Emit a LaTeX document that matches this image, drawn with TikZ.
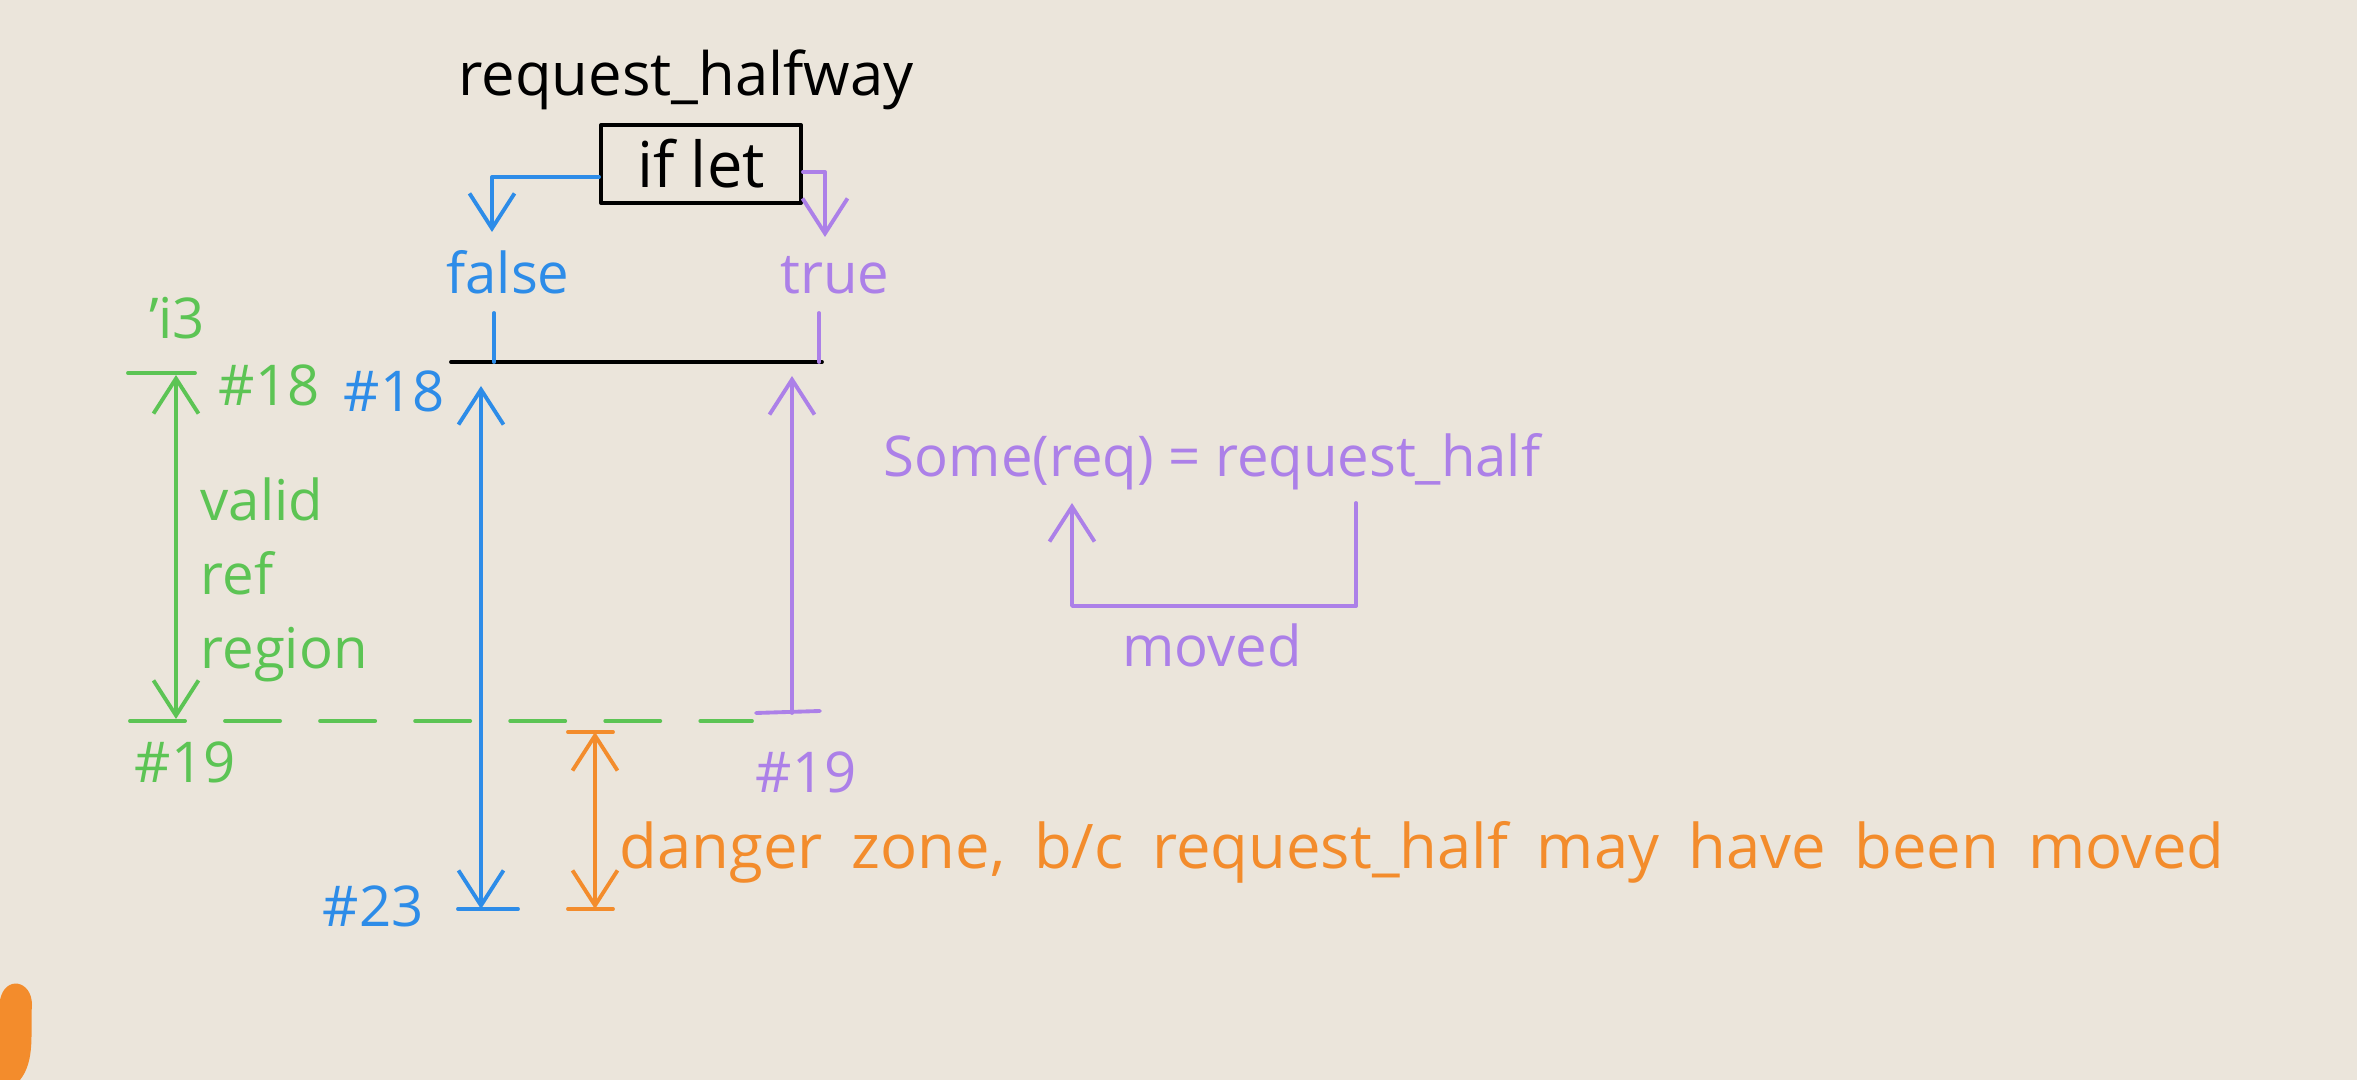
\documentclass[tikz,border=0pt]{standalone}
\usepackage{fontspec}
\setmainfont{Open Sans}
\usetikzlibrary{positioning,arrows.meta,calc}

\definecolor{paper}{RGB}{235,229,219}
\definecolor{penblue}{RGB}{45,140,232}
\definecolor{penpurple}{RGB}{172,128,232}
\definecolor{pengreen}{RGB}{92,196,84}
\definecolor{penorange}{RGB}{243,140,44}

\tikzset{
    hand/.style={font=\fontsize{16}{21}\selectfont, inner sep=0pt},
    pen/.style={line width=1.1pt, line cap=round, line join=round},
    barb/.style={-{Straight Barb[length=3.5mm,width=4.5mm]}},
    twobarb/.style={{Straight Barb[length=3.5mm,width=4.5mm]}-{Straight Barb[length=3.5mm,width=4.5mm]}}
}

\begin{document}
\begin{tikzpicture}[x=0.01cm, y=-0.01cm]
        % paper
        \fill[paper] (0,0) rectangle (2357,1080);
        \useasboundingbox (0,0) rectangle (2357,1080);

        %-----Branch-----

        % if let box
        \node [hand, draw, pen, minimum width=2cm, minimum height=0.78cm, font=\fontsize{18}{21}\selectfont] (iflet) at (701,164) {if let};

        % function name
        \node [hand, above=0.12cm of iflet, xshift=-0.15cm, font=\fontsize{17}{21}\selectfont] (title) {request\_halfway};

        % branch labels
        \node [hand, text=penblue] (false) at (508,272) {false};
        \node [hand, text=penpurple] (true) at (835,275) {true};

        \coordinate (ftip) at (492,232);
        \coordinate (ttip) at (825,237);
        \draw[pen, barb, penblue] ($(iflet.west)+(0,13)$) -| (ftip);
        \draw[pen, barb, penpurple] ($(iflet.east)+(0,8)$) -| (ttip);

        %-----Line 18-----
        \coordinate (bar1) at (451,362);
        \coordinate (bar2) at (822,362);
        \draw[pen, black] (bar1) -- (bar2);
        \draw[pen, penblue] (494,313) -- (494,362);
        \draw[pen, penpurple] (819,313) -- (819,362);

        %-----False branch-----
        \node [hand, text=penblue] (b18) at (394,391) {\#18};
        \node [hand, text=penblue] (b23) at (373,906) {\#23};
        \coordinate (btop) at (481,386);
        \coordinate (bbot) at (481,909);
        \draw[pen, twobarb, penblue] (btop) -- (bbot);
        \draw[pen, penblue] (458,909) -- (518,909);

        %-----True branch-----
        \coordinate (ptop) at (792,376);
        \coordinate (pbot) at (792,713);
        \draw[pen, barb, penpurple] (pbot) -- (ptop);
        \draw[pen, penpurple] (756,713) -- (820,711);
        \node [hand, text=penpurple] (p19) at (806,772) {\#19};

        %-----Valid ref region-----
        \node [hand, text=pengreen] (life) at (177,318) {'i3};
        \node [hand, text=pengreen] (g18) at (269,385) {\#18};
        \node [hand, text=pengreen] (g19) at (185,762) {\#19};
        \draw[pen, pengreen] (128,373) -- (195,373);
        \coordinate (gtop) at (176,375);
        \coordinate (gbot) at (176,719);
        \draw[pen, twobarb, pengreen] (gtop) -- (gbot);
        \node [hand, text=pengreen, align=left, anchor=west] (valid) at (200,580) {valid\\ref\\region};

        % dashed line 19
        \coordinate (dash1) at (130,721);
        \coordinate (dash2) at (752,721);
        \draw[pen, pengreen, dash pattern=on 0.55cm off 0.4cm] (dash1) -- (dash2);

        %-----Danger zone-----
        \coordinate (otop) at (595,732);
        \coordinate (obot) at (595,909);
        \draw[pen, twobarb, penorange] (otop) -- (obot);
        \draw[pen, penorange] (568,732) -- (613,732);
        \draw[pen, penorange] (568,909) -- (613,909);
        \node [hand, text=penorange, anchor=west, font=\fontsize{17.5}{21}\selectfont] (danger) at (619,852) {\spaceskip=0.47em\relax danger zone, b/c request\_half may have been moved};

        %-----Move-----
        \node [hand, text=penpurple] (some) at (1212,462) {Some(req) = request\_half};
        \coordinate (mvfrom) at (1356,503);
        \coordinate (mvto) at (1072,503);
        \draw[pen, barb, penpurple] (mvfrom) -- ++(0,103) -| (mvto);
        \node [hand, text=penpurple] (moved) at (1212,645) {moved};

        % pen blob
        \fill[penorange] (0,1000) .. controls (5,975) and (32,980) .. (32,1005) .. controls (30,1030) and (36,1060) .. (20,1080) -- (0,1080) -- cycle;
\end{tikzpicture}
\end{document}
